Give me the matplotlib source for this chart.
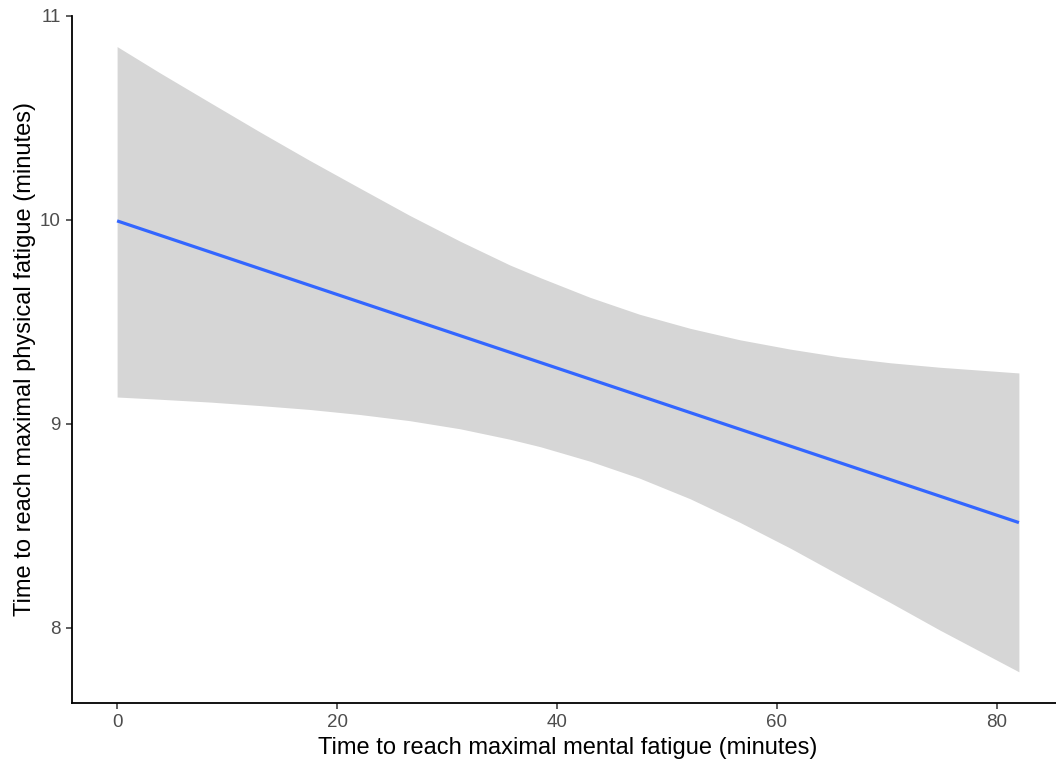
import matplotlib
matplotlib.use("Agg")
import matplotlib.pyplot as plt

plt.rcParams['font.family'] = ['Liberation Sans', 'DejaVu Sans']

# Ajuste linear (linha) e banda de confiança
linha_x = [0, 82]
linha_y = [9.995, 8.515]

banda_x = [0, 3.9, 8.5, 13, 17.5, 22.1, 26.6, 31.2, 35.7, 38.5, 43, 47.5,
           52.1, 56.6, 61.2, 65.7, 70.3, 74.8, 82]
banda_sup = [10.850, 10.721, 10.574, 10.431, 10.292, 10.155, 10.022, 9.895,
             9.779, 9.716, 9.620, 9.537, 9.468, 9.412, 9.366, 9.328, 9.299,
             9.277, 9.249]
banda_inf = [9.131, 9.120, 9.106, 9.089, 9.070, 9.045, 9.015, 8.975, 8.924,
             8.887, 8.816, 8.733, 8.632, 8.517, 8.390, 8.257, 8.123, 7.988,
             7.783]

x_ticks = [0, 20, 40, 60, 80]
y_ticks = [8, 9, 10, 11]

fig = plt.figure(figsize=(10.56, 7.66), dpi=100)
ax = fig.add_axes([72 / 1056, 63 / 766, 992 / 1056, 687 / 766])

# Banda de confiança
ax.fill_between(banda_x, banda_inf, banda_sup, color='#D6D6D6', linewidth=0)

# Linha de regressão
ax.plot(linha_x, linha_y, color='#3366FF', linewidth=2.3, solid_capstyle='butt')

ax.set_xlim(-4.1, 86.1)
ax.set_ylim(7.63, 11.0)
ax.set_xticks(x_ticks)
ax.set_yticks(y_ticks)

for lado in ['top', 'right']:
    ax.spines[lado].set_visible(False)
for lado in ['left', 'bottom']:
    ax.spines[lado].set_linewidth(1.3)
    ax.spines[lado].set_color('black')

ax.tick_params(axis='both', length=4, width=1.1, color='#333333',
               labelcolor='#4D4D4D', labelsize=13.5, pad=4)

ax.set_xlabel("Time to reach maximal mental fatigue (minutes)", fontsize=17, color='black', labelpad=4)
ax.set_ylabel("Time to reach maximal physical fatigue (minutes)", fontsize=17, color='black', labelpad=3)

fig.savefig("out.png", dpi=100)
